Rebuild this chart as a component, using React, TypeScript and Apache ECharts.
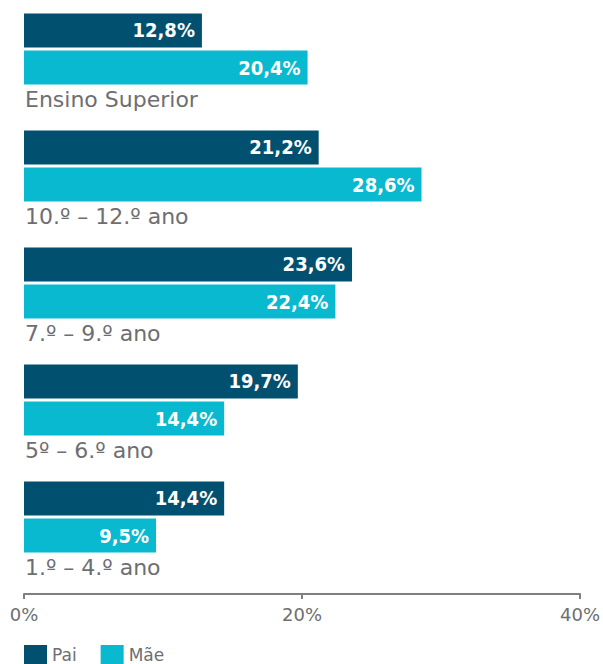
import React, { useEffect, useRef } from "react";
import * as echarts from "echarts";

const categories = ["Ensino Superior", "10.º – 12.º ano", "7.º – 9.º ano", "5º – 6.º ano", "1.º – 4.º ano"];
const paiValues = [12.8, 21.2, 23.6, 19.7, 14.4];
const maeValues = [20.4, 28.6, 22.4, 14.4, 9.5];
const labelSlot = [0, 0, 0, 0, 0];
const xTicks = [0, 20, 40];

const PAI = "#02506f";
const MAE = "#09b9d0";
const GREY = "#6d6e71";

const fmt = (v: number) => `${v.toFixed(1).replace(".", ",")}%`;

export default function App() {
  const ref = useRef<HTMLDivElement>(null);
  useEffect(() => {
    if (!ref.current) return;
    const chart = echarts.init(ref.current, null, { renderer: "svg" });
    const valueLabel = {
      show: true,
      position: "insideRight" as const,
      distance: 7,
      color: "#ffffff",
      fontFamily: "DejaVu Sans Condensed",
      fontWeight: "bold" as const,
      fontSize: 20,
      formatter: (p: any) => fmt(p.value),
    };
    chart.setOption({
      animation: false,
      grid: { left: 24, right: 21, top: 9, bottom: 70, containLabel: false },
      legend: {
        data: ["Pai", "Mãe"],
        left: 24,
        top: 645,
        padding: 0,
        itemWidth: 23,
        itemHeight: 19,
        itemGap: 24,
        icon: "rect",
        textStyle: { color: GREY, fontFamily: "DejaVu Sans", fontSize: 17 },
      },
      xAxis: {
        type: "value",
        min: xTicks[0],
        max: xTicks[xTicks.length - 1],
        interval: 20,
        splitLine: { show: false },
        axisLine: { show: true, lineStyle: { color: "#7f7f7f", width: 2 } },
        axisTick: { show: true, length: 5, lineStyle: { color: "#7f7f7f", width: 2 } },
        axisLabel: {
          color: GREY,
          fontFamily: "DejaVu Sans",
          fontSize: 18,
          margin: 11,
          formatter: "{value}%",
        },
      },
      yAxis: {
        type: "category",
        data: categories,
        inverse: true,
        axisLine: { show: false },
        axisTick: { show: false },
        axisLabel: { show: false },
      },
      series: [
        {
          name: "Pai",
          type: "bar",
          data: paiValues,
          barWidth: 34,
          barGap: "9%",
          itemStyle: { color: PAI },
          label: valueLabel,
        },
        {
          name: "Mãe",
          type: "bar",
          data: maeValues,
          barWidth: 34,
          barGap: "9%",
          itemStyle: { color: MAE },
          label: valueLabel,
        },
        {
          name: "rótulo",
          type: "bar",
          data: labelSlot,
          barWidth: 34,
          barGap: "9%",
          itemStyle: { color: "transparent" },
          silent: true,
          label: {
            show: true,
            position: "right",
            distance: 1,
            offset: [0, -5],
            align: "left",
            verticalAlign: "middle",
            color: GREY,
            fontFamily: "DejaVu Sans",
            fontSize: 22,
            formatter: (p: any) => p.name,
          },
        },
      ],
    });
    return () => chart.dispose();
  }, []);
  return <div ref={ref} style={{ width: 603, height: 664, position: "absolute", left: 0, top: 0 }} />;
}
